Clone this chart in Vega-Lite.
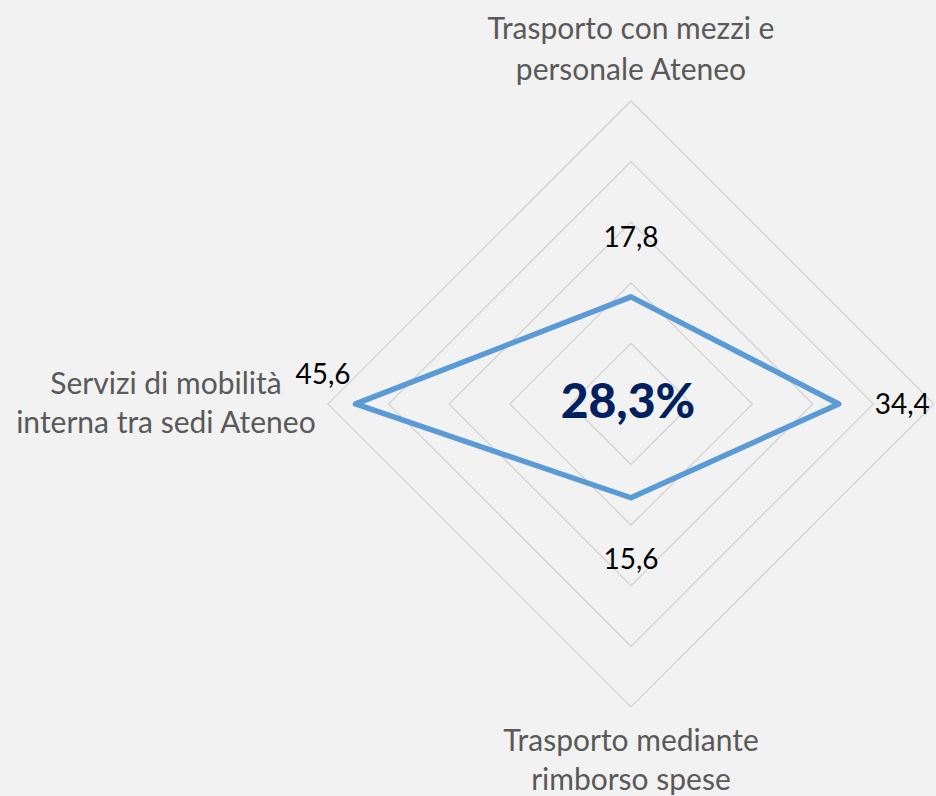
{
  "$schema": "https://vega.github.io/schema/vega-lite/v6.json",
  "width": 936,
  "height": 796,
  "autosize": {"type": "fit", "contains": "padding"},
  "padding": 0,
  "background": "#f2f2f2",
  "config": {
    "view": {"stroke": null},
    "text": {"font": "Lato", "lineBreak": "\n"},
    "locale": {"number": {"decimal": ",", "thousands": ".", "grouping": [3], "currency": ["", " €"]}}
  },
  "datasets": {
    "series": [
      {"categoria": "Trasporto con mezzi e personale Ateneo", "etichetta": "Trasporto con mezzi e\npersonale Ateneo", "ordine": 0, "valore": 17.8},
      {"categoria": "asse destro", "etichetta": "", "ordine": 1, "valore": 34.4},
      {"categoria": "Trasporto mediante rimborso spese", "etichetta": "Trasporto mediante\nrimborso spese", "ordine": 2, "valore": 15.6},
      {"categoria": "Servizi di mobilità interna tra sedi Ateneo", "etichetta": "Servizi di mobilità\ninterna tra sedi Ateneo", "ordine": 3, "valore": 45.6}
    ],
    "rings": [{"livello": 10}, {"livello": 20}, {"livello": 30}, {"livello": 40}, {"livello": 50}],
    "totale": [{"testo": "28,3%"}]
  },
  "layer": [
    {
      "data": {"name": "rings"},
      "mark": {"type": "point", "shape": "diamond", "filled": false, "stroke": "#d6d6d6", "color": "#d6d6d6", "strokeWidth": 1.5, "opacity": 1},
      "encoding": {
        "x": {"datum": 0, "type": "quantitative", "scale": {"domain": [-104.455, 50], "nice": false, "zero": false}, "axis": null},
        "y": {"datum": 0, "type": "quantitative", "scale": {"domain": [-64.19, 67.16], "nice": false, "zero": false}, "axis": null},
        "size": {"field": "livello", "type": "quantitative", "scale": {"type": "pow", "exponent": 2, "domain": [0, 50], "range": [0, 367236]}, "legend": null}
      }
    },
    {
      "data": {"name": "series"},
      "transform": [
        {"calculate": "PI / 2 - datum.ordine * PI / 2", "as": "ang"},
        {"calculate": "datum.valore * cos(datum.ang)", "as": "px"},
        {"calculate": "datum.valore * sin(datum.ang)", "as": "py"},
        {"calculate": "50 * cos(datum.ang)", "as": "lx"},
        {"calculate": "50 * sin(datum.ang)", "as": "ly"}
      ],
      "layer": [
        {
          "mark": {"type": "line", "interpolate": "linear-closed", "stroke": "#5b9bd5", "strokeWidth": 5.5, "strokeJoin": "round"},
          "encoding": {
            "x": {"field": "px", "type": "quantitative", "scale": {"domain": [-104.455, 50], "nice": false, "zero": false}, "axis": null},
            "y": {"field": "py", "type": "quantitative", "scale": {"domain": [-64.19, 67.16], "nice": false, "zero": false}, "axis": null},
            "order": {"field": "ordine", "type": "quantitative"}
          }
        },
        {
          "transform": [{"filter": "datum.ordine == 0"}],
          "mark": {"type": "text", "align": "center", "baseline": "alphabetic", "dy": -50, "fontSize": 28, "color": "#000000"},
          "encoding": {
            "x": {"field": "px", "type": "quantitative"},
            "y": {"field": "py", "type": "quantitative"},
            "text": {"field": "valore", "type": "quantitative", "format": ".1f"}
          }
        },
        {
          "transform": [{"filter": "datum.ordine == 1"}],
          "mark": {"type": "text", "align": "left", "baseline": "alphabetic", "dx": 36, "dy": 10, "fontSize": 28, "color": "#000000"},
          "encoding": {
            "x": {"field": "px", "type": "quantitative"},
            "y": {"field": "py", "type": "quantitative"},
            "text": {"field": "valore", "type": "quantitative", "format": ".1f"}
          }
        },
        {
          "transform": [{"filter": "datum.ordine == 2"}],
          "mark": {"type": "text", "align": "center", "baseline": "alphabetic", "dy": 71, "fontSize": 28, "color": "#000000"},
          "encoding": {
            "x": {"field": "px", "type": "quantitative"},
            "y": {"field": "py", "type": "quantitative"},
            "text": {"field": "valore", "type": "quantitative", "format": ".1f"}
          }
        },
        {
          "transform": [{"filter": "datum.ordine == 3"}],
          "mark": {"type": "text", "align": "right", "baseline": "alphabetic", "dx": -5, "dy": -20, "fontSize": 28, "color": "#000000"},
          "encoding": {
            "x": {"field": "px", "type": "quantitative"},
            "y": {"field": "py", "type": "quantitative"},
            "text": {"field": "valore", "type": "quantitative", "format": ".1f"}
          }
        },
        {
          "transform": [{"filter": "datum.ordine == 0"}],
          "mark": {"type": "text", "align": "center", "baseline": "top", "dy": -88, "fontSize": 30, "lineHeight": 41, "color": "#595959"},
          "encoding": {
            "x": {"field": "lx", "type": "quantitative"},
            "y": {"field": "ly", "type": "quantitative"},
            "text": {"field": "etichetta", "type": "nominal"}
          }
        },
        {
          "transform": [{"filter": "datum.ordine == 2"}],
          "mark": {"type": "text", "align": "center", "baseline": "top", "dy": 22, "fontSize": 30, "lineHeight": 39, "color": "#595959"},
          "encoding": {
            "x": {"field": "lx", "type": "quantitative"},
            "y": {"field": "ly", "type": "quantitative"},
            "text": {"field": "etichetta", "type": "nominal"}
          }
        },
        {
          "transform": [{"filter": "datum.ordine == 3"}],
          "mark": {"type": "text", "align": "center", "baseline": "top", "dx": -163, "dy": -34, "fontSize": 30, "lineHeight": 39, "color": "#595959"},
          "encoding": {
            "x": {"field": "lx", "type": "quantitative"},
            "y": {"field": "ly", "type": "quantitative"},
            "text": {"field": "etichetta", "type": "nominal"}
          }
        }
      ]
    },
    {
      "data": {"name": "totale"},
      "mark": {"type": "text", "align": "center", "baseline": "middle", "fontSize": 48, "fontWeight": 900, "color": "#002060", "dx": -3, "dy": 0},
      "encoding": {
        "x": {"datum": 0, "type": "quantitative"},
        "y": {"datum": 0, "type": "quantitative"},
        "text": {"field": "testo", "type": "nominal"}
      }
    }
  ]
}
